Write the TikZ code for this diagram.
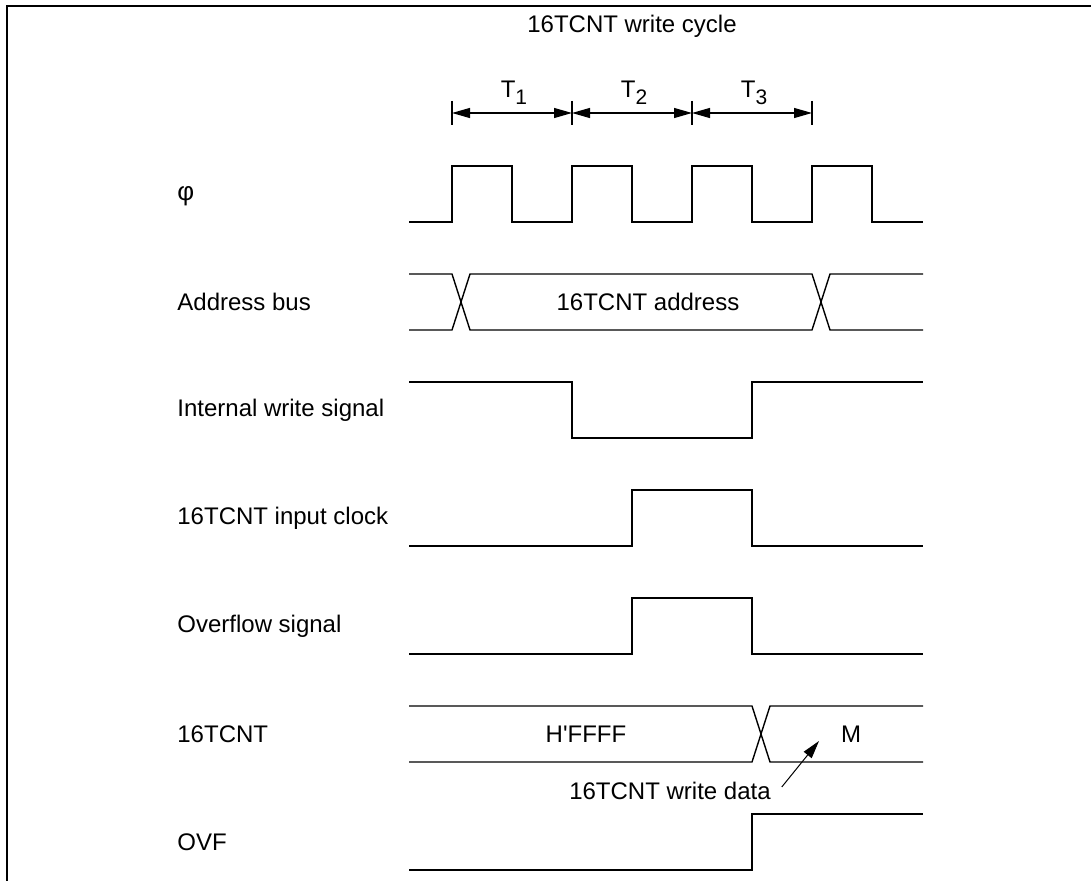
\documentclass[tikz,border=0pt]{standalone}
\usepackage{fontspec}
\setmainfont{Liberation Sans}
\usepackage{tikz}
\usetikzlibrary{arrows.meta}
\tikzset{
  sname/.style={anchor=west,inner sep=0pt},
  sig/.style={line width=0.7pt},
  tickln/.style={line width=0.6pt},
  darr/.style={{Triangle[length=9pt,width=5pt]}-{Triangle[length=9pt,width=5pt]},line width=0.6pt},
  arr/.style={-{Triangle[length=9pt,width=5pt]},line width=0.5pt},
}
\newcommand{\Tsub}[1]{T\raisebox{-0.55ex}{\fontsize{10.5}{11}\selectfont #1}}
\newcommand{\squote}{\XeTeXglyph\XeTeXcharglyph"0027 }

\begin{document}
\begin{tikzpicture}[x=0.5pt,y=-0.5pt,font=\fontsize{12}{14.4}\selectfont]
\useasboundingbox (0,0) rectangle (1091,881);
\draw[line width=0.9pt] (1091,6) -- (7,6) -- (7,881);

% write cycle, T1..T3
\node (cyc) at (632,26) {16TCNT write cycle};
\foreach \i/\x in {0/452,1/572,2/692,3/812} {
  \coordinate (m\i) at (\x,113);
  \draw[tickln] (\x,101) -- (\x,125);
}
\draw[darr] (m0) -- (m1);
\draw[darr] (m1) -- (m2);
\draw[darr] (m2) -- (m3);
\node (t1) at (514,93) {\Tsub{1}};
\node (t2) at (634,93) {\Tsub{2}};
\node (t3) at (754,93) {\Tsub{3}};

% signal names
\node[sname] (phi) at (177,196) {\fontsize{13}{14}\selectfont φ};
\node[sname] (adr) at (177,302) {Address bus};
\node[sname] (iws) at (177,410) {Internal write signal};
\node[sname] (clk) at (177,518) {16TCNT input clock};
\node[sname] (ovs) at (177,626) {Overflow signal};
\node[sname] (cnt) at (177,734) {16TCNT};
\node[sname] (ovf) at (177,842) {OVF};

% phi
\draw[sig] (409,222) foreach \x in {452,572,692,812} {
  -- (\x,222) -- (\x,166) -- (\x+60,166) -- (\x+60,222)} -- (923,222);

% address bus
\draw[sig] (409,274) -- (452,274) -- (470,330) -- (812,330) -- (830,274) -- (923,274);
\draw[sig] (409,330) -- (452,330) -- (470,274) -- (812,274) -- (830,330) -- (923,330);
\node (adrv) at (648,302) {16TCNT address};

% internal write signal
\draw[sig] (409,382) -- (572,382) -- (572,438) -- (752,438) -- (752,382) -- (923,382);

% 16TCNT input clock
\draw[sig] (409,546) -- (632,546) -- (632,490) -- (752,490) -- (752,546) -- (923,546);

% overflow signal
\draw[sig] (409,654) -- (632,654) -- (632,598) -- (752,598) -- (752,654) -- (923,654);

% 16TCNT
\draw[sig] (409,706) -- (752,706) -- (770,762) -- (923,762);
\draw[sig] (409,762) -- (752,762) -- (770,706) -- (923,706);
\node (old) at (586,734) {H\squote FFFF};
\node (new) at (851,734) {M};
\node (wd) at (670,791) {16TCNT write data};
\coordinate (wtip) at (819,741);
\draw[arr] ([xshift=2pt,yshift=2pt]wd.east) -- (wtip);

% OVF
\draw[sig] (409,870) -- (752,870) -- (752,814) -- (923,814);
\end{tikzpicture}
\end{document}
